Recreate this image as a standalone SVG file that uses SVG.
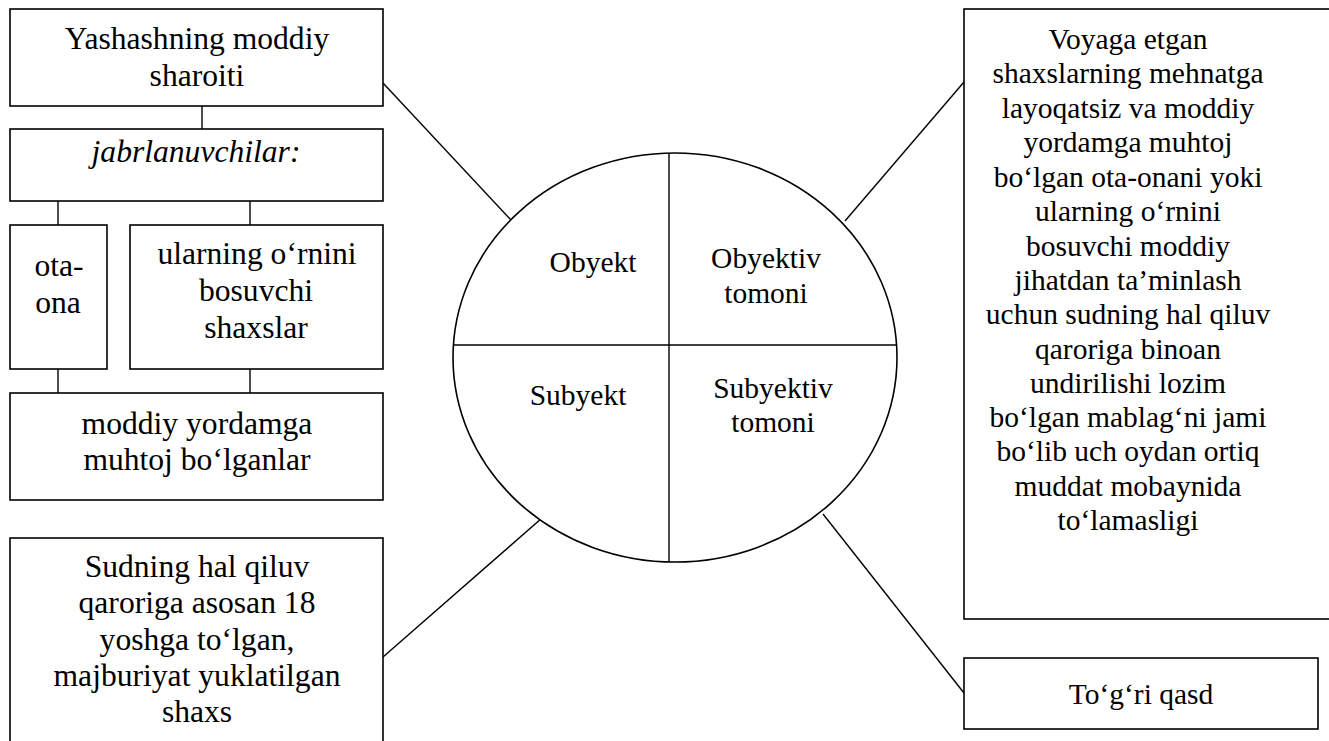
<svg xmlns="http://www.w3.org/2000/svg" width="1329" height="741" viewBox="0 0 1329 741">
<style>
.box{fill:#fff;stroke:#000;stroke-width:1.6}
.ln{fill:none;stroke:#000;stroke-width:1.4}
text{fill:#000;text-anchor:middle}
.l{font-size:31.6px}
.r{font-size:29.5px}
.e{font-size:29.5px}
.it{font-style:italic}
</style>
<rect width="1329" height="741" fill="#fff"/>
<g id="connectors">
<line class="ln" x1="202" y1="106" x2="202" y2="129"/>
<line class="ln" x1="58" y1="201" x2="58" y2="225"/>
<line class="ln" x1="250" y1="201" x2="250" y2="225"/>
<line class="ln" x1="58" y1="369" x2="58" y2="393"/>
<line class="ln" x1="250" y1="369" x2="250" y2="393"/>
<line class="ln" x1="383" y1="83" x2="511" y2="220"/>
<line class="ln" x1="845" y1="221" x2="964" y2="82"/>
<line class="ln" x1="542" y1="518" x2="383" y2="657"/>
<line class="ln" x1="823" y1="514" x2="964" y2="693"/>
</g>
<g style="font-family:'Liberation Serif','Times New Roman',Tinos,'DejaVu Serif','Noto Serif',serif">
<g id="yashash">
<rect class="box" x="10" y="9" width="373" height="97"/>
<text class="l" x="197" y="49">Yashashning moddiy</text>
<text class="l" x="197" y="86">sharoiti</text>
</g>
<g id="jabr">
<rect class="box" x="10" y="129" width="373" height="72"/>
<text class="l it" x="196" y="162">jabrlanuvchilar:</text>
</g>
<g id="otaona">
<rect class="box" x="10" y="225" width="97" height="144"/>
<text class="l" x="59" y="276">ota-</text>
<text class="l" x="58" y="313">ona</text>
</g>
<g id="ularning">
<rect class="box" x="130" y="225" width="253" height="144"/>
<text class="l" x="257" y="264">ularning o‘rnini</text>
<text class="l" x="256" y="301">bosuvchi</text>
<text class="l" x="256" y="338">shaxslar</text>
</g>
<g id="muhtoj">
<rect class="box" x="10" y="393" width="373" height="107"/>
<text class="l" x="197" y="434">moddiy yordamga</text>
<text class="l" x="197" y="470">muhtoj bo‘lganlar</text>
</g>
<g id="sudning">
<rect class="box" x="10" y="538" width="373" height="220"/>
<text class="l" x="197" y="577">Sudning hal qiluv</text>
<text class="l" x="197" y="613">qaroriga asosan 18</text>
<text class="l" x="197" y="650">yoshga to‘lgan,</text>
<text class="l" x="197" y="686">majburiyat yuklatilgan</text>
<text class="l" x="197" y="722">shaxs</text>
</g>
<g id="ellipse">
<ellipse class="box" cx="675" cy="357.5" rx="222" ry="204.5"/>
<line class="ln" x1="669" y1="153" x2="669" y2="562"/>
<line class="ln" x1="453" y1="345" x2="897" y2="345"/>
<text class="e" x="593" y="272">Obyekt</text>
<text class="e" x="766" y="268">Obyektiv</text>
<text class="e" x="766" y="303">tomoni</text>
<text class="e" x="578" y="405">Subyekt</text>
<text class="e" x="773" y="398">Subyektiv</text>
<text class="e" x="773" y="432">tomoni</text>
</g>
<g id="voyaga">
<rect class="box" x="964" y="9" width="380" height="610"/>
<text class="r" x="1128" y="49">Voyaga etgan</text>
<text class="r" x="1128" y="83">shaxslarning mehnatga</text>
<text class="r" x="1128" y="118">layoqatsiz va moddiy</text>
<text class="r" x="1128" y="152">yordamga muhtoj</text>
<text class="r" x="1128" y="187">bo‘lgan ota-onani yoki</text>
<text class="r" x="1128" y="221">ularning o‘rnini</text>
<text class="r" x="1128" y="256">bosuvchi moddiy</text>
<text class="r" x="1128" y="290">jihatdan ta’minlash</text>
<text class="r" x="1128" y="324">uchun sudning hal qiluv</text>
<text class="r" x="1128" y="359">qaroriga binoan</text>
<text class="r" x="1128" y="393">undirilishi lozim</text>
<text class="r" x="1128" y="427">bo‘lgan mablag‘ni jami</text>
<text class="r" x="1128" y="461">bo‘lib uch oydan ortiq</text>
<text class="r" x="1128" y="496">muddat mobaynida</text>
<text class="r" x="1128" y="530">to‘lamasligi</text>
</g>
<g id="togri">
<rect class="box" x="964" y="658" width="354" height="71"/>
<text class="r" x="1141" y="704">To‘g‘ri qasd</text>
</g>
</g>
</svg>
